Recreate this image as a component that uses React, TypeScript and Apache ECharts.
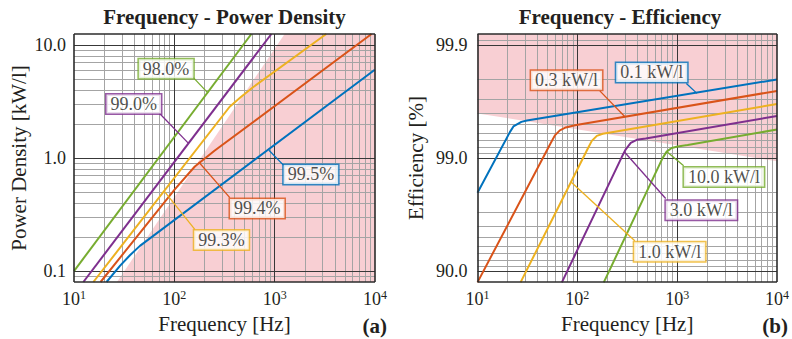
import React, { useEffect, useRef } from "react";
import * as echarts from "echarts";

const FONT = '"Liberation Serif", "Times New Roman", Times, serif';
const TEXT = "#231f20";
const BLUE = "#0072BD";
const ORANGE = "#D95319";
const YELLOW = "#EDB120";
const PURPLE = "#7E2F8E";
const GREEN = "#77AC30";
const PINK = "#F8CFD3";
const MINOR = "#a4a4a4";
const MAJOR = "#383838";

// ---- axes ----
const freqRange = [10, 10000];
const valueRange = [0.08, 12.5]; // left: kW/l ; right: losses 100 - efficiency (%)
const freqDecades = [10, 100, 1000, 10000];
const valueDecades = [0.1, 1, 10];
const minorSteps = [2, 3, 4, 5, 6, 7, 8, 9];
const freqMinor = [10, 100, 1000].flatMap((d) => minorSteps.map((k) => k * d));
const valueMinor = [0.09, ...[0.1, 1].flatMap((d) => minorSteps.map((k) => +(k * d).toFixed(3)))];

// ---- (a) power density [kW/l] vs frequency [Hz], one curve per efficiency ----
const dens980 = [[10, 0.1], [586, 12.5]];
const dens990 = [[12.4, 0.08], [927, 12.5]];
const dens993 = [[15.6, 0.08], [356, 2.84], [467, 3.5], [608, 4.22], [3266, 12.5]];
const dens994 = [[18.4, 0.08], [101, 0.528], [160, 0.841], [253, 1.164], [9230, 12.5]];
const dens995 = [[21.1, 0.08], [28.7, 0.111], [36.1, 0.138], [45.4, 0.167], [9950, 6.03]];
const densRegion = [[26.8, 0.08], [1257, 12.5], [10000, 12.5]];

// ---- (b) efficiency [%] vs frequency [Hz], one curve per power density ----
const eff01 = [[10, 97.97], [21.1, 99.41], [22.9, 99.474], [27.5, 99.521], [31.3, 99.534], [10000, 99.798]];
const eff03 = [[10, 87.4], [54, 99.26], [59.6, 99.369], [66.8, 99.43], [76.7, 99.463], [94.4, 99.486], [10000, 99.745]];
const eff10 = [[27, 87.4], [127.4, 99.176], [139.6, 99.295], [156.7, 99.363], [179.9, 99.389], [221, 99.409], [10000, 99.667]];
const eff30 = [[70, 87.4], [278.6, 99.019], [305.5, 99.162], [342.8, 99.266], [393.6, 99.309], [484, 99.329], [10000, 99.575]];
const eff100 = [[184, 87.4], [716, 99.003], [785, 99.122], [881, 99.184], [1012, 99.21], [1274, 99.232], [10000, 99.44]];
const effRegion = [[10, 99.597], [10000, 98.93]];

// ---- annotations: text, colour, point on curve, leader end, box centre ----
const densNotes = [
  { text: "98.0%", color: GREEN, at: [217, 3.75], end: [153, 5.19], box: [82.8, 6.15] },
  { text: "99.0%", color: PURPLE, at: [137, 1.36], end: [70.6, 2.5], box: [39.4, 3.01] },
  { text: "99.3%", color: YELLOW, at: [79.2, 0.51], end: [160, 0.234], box: [295, 0.188] },
  { text: "99.4%", color: ORANGE, at: [175, 0.922], end: [357, 0.446], box: [670, 0.358] },
  { text: "99.5%", color: BLUE, at: [877, 1.17], end: [1250, 0.847], box: [2296, 0.716] },
];
const effNotes = [
  { text: "0.1 kW/l", color: BLUE, at: [1578, 99.732], end: [1236, 99.781], box: [556, 99.825] },
  { text: "0.3 kW/l", color: ORANGE, at: [303, 99.564], end: [168, 99.745], box: [78, 99.795] },
  { text: "1.0 kW/l", color: YELLOW, at: [86, 98.38], end: [376, 94.6], box: [841, 93.24] },
  { text: "3.0 kW/l", color: PURPLE, at: [295, 99.119], end: [767, 97.72], box: [1746, 97.1] },
  { text: "10.0 kW/l", color: GREEN, at: [785, 99.122], end: [1161, 98.83], box: [2940, 98.53] },
];

const isDecade = (v: number) => Math.abs(Math.log10(v) - Math.round(Math.log10(v))) < 1e-6;

function buildPanel(
  idx: number,
  curves: { data: number[][]; color: string }[],
  region: number[][],
  notes: { text: string; color: string; at: number[]; end: number[]; box: number[] }[],
  toY: (v: number) => number
) {
  const ax = { xAxisIndex: idx, yAxisIndex: idx };
  const lax = { coordinateSystem: "cartesian2d", xAxisIndex: idx, yAxisIndex: idx };
  const [y0, y1] = valueRange;
  const [x0, x1] = freqRange;
  const pt = (p: number[]) => [p[0], toY(p[1])];
  const series: any[] = [];
  series.push({
    type: "line", ...ax, z: 1, silent: true, symbol: "none",
    data: region.map(pt),
    lineStyle: { width: 0, opacity: 0 },
    areaStyle: { color: PINK, opacity: 1, origin: "start" },
  });
  series.push({
    type: "lines", ...lax, z: 2, silent: true,
    lineStyle: { color: MINOR, width: 1, opacity: 1 },
    data: [
      ...freqMinor.map((x) => ({ coords: [[x, y0], [x, y1]] })),
      ...valueMinor.map((y) => ({ coords: [[x0, y], [x1, y]] })),
    ],
  });
  series.push({
    type: "lines", ...lax, z: 3, silent: true,
    lineStyle: { color: MAJOR, width: 1, opacity: 1 },
    data: [
      ...freqDecades.slice(1, -1).map((x) => ({ coords: [[x, y0], [x, y1]] })),
      ...valueDecades.map((y) => ({ coords: [[x0, y], [x1, y]] })),
    ],
  });
  curves.forEach((c) =>
    series.push({
      type: "line", ...ax, z: 4, silent: true, symbol: "none",
      data: c.data.map(pt),
      lineStyle: { color: c.color, width: 2 },
    })
  );
  series.push({
    type: "lines", ...lax, z: 5, silent: true,
    data: notes.map((n) => ({
      coords: [pt(n.at), pt(n.end)],
      lineStyle: { color: n.color, width: 1.3, opacity: 1 },
    })),
  });
  series.push({
    type: "scatter", ...ax, z: 6, silent: true, symbolSize: 1,
    itemStyle: { color: "rgba(0,0,0,0)" },
    data: notes.map((n) => ({
      value: pt(n.box),
      label: {
        show: true, position: "inside", formatter: n.text,
        fontFamily: FONT, fontSize: 18, color: TEXT,
        backgroundColor: "#fff", borderColor: n.color, borderWidth: 1.5,
        padding: [1, 4, 0, 4], lineHeight: 18,
      },
    })),
  });
  series.push({
    type: "lines", ...lax, z: 7, silent: true, clip: false,
    lineStyle: { color: "#2b2b2b", width: 1.6, opacity: 1 },
    data: [
      { coords: [[x0, y0], [x1, y0]] },
      { coords: [[x1, y0], [x1, y1]] },
      { coords: [[x1, y1], [x0, y1]] },
      { coords: [[x0, y1], [x0, y0]] },
    ],
  });
  return series;
}

const xLabel = (v: number) => (isDecade(v) ? `{b|10}{s|${Math.round(Math.log10(v))}}` : "");

function makeOption() {
  const xAxis = [0, 1].map((i) => ({
    type: "log", logBase: 10, gridIndex: i, min: freqRange[0], max: freqRange[1],
    name: "Frequency [Hz]", nameLocation: "middle", nameGap: 31,
    nameTextStyle: { fontFamily: FONT, fontSize: 21, color: TEXT },
    axisLine: { show: false }, axisTick: { show: false }, splitLine: { show: false },
    axisLabel: {
      margin: 7, formatter: xLabel, color: TEXT, fontFamily: FONT,
      rich: {
        b: { fontFamily: FONT, fontSize: 18, color: TEXT, lineHeight: 20 },
        s: { fontFamily: FONT, fontSize: 12, color: TEXT, lineHeight: 12, verticalAlign: "top" },
      },
    },
  }));
  const yAxis = [
    {
      type: "log", logBase: 10, gridIndex: 0, min: valueRange[0], max: valueRange[1],
      name: "Power Density [kW/l]", nameLocation: "middle", nameGap: 45,
      nameTextStyle: { fontFamily: FONT, fontSize: 21, color: TEXT },
      axisLine: { show: false }, axisTick: { show: false }, splitLine: { show: false },
      axisLabel: {
        margin: 8, fontFamily: FONT, fontSize: 18, color: TEXT,
        formatter: (v: number) => (isDecade(v) ? v.toFixed(1) : ""),
      },
    },
    {
      type: "log", logBase: 10, gridIndex: 1, min: valueRange[0], max: valueRange[1], inverse: true,
      name: "Efficiency [%]", nameLocation: "middle", nameGap: 51,
      nameTextStyle: { fontFamily: FONT, fontSize: 21, color: TEXT },
      axisLine: { show: false }, axisTick: { show: false }, splitLine: { show: false },
      axisLabel: {
        margin: 10, fontFamily: FONT, fontSize: 18, color: TEXT,
        formatter: (v: number) => (isDecade(v) ? (100 - v).toFixed(1) : ""),
      },
    },
  ];
  const left = buildPanel(
    0,
    [
      { data: dens995, color: BLUE },
      { data: dens994, color: ORANGE },
      { data: dens993, color: YELLOW },
      { data: dens990, color: PURPLE },
      { data: dens980, color: GREEN },
    ],
    densRegion, densNotes, (v) => v
  );
  const right = buildPanel(
    1,
    [
      { data: eff01, color: BLUE },
      { data: eff03, color: ORANGE },
      { data: eff10, color: YELLOW },
      { data: eff30, color: PURPLE },
      { data: eff100, color: GREEN },
    ],
    effRegion, effNotes, (v) => +(100 - v).toFixed(4)
  );
  const txt = (text: string, x: number, y: number, size: number, bold: boolean, align = "center") => ({
    type: "text", x, y, silent: true,
    style: {
      text, align, verticalAlign: "middle", fill: TEXT,
      fontFamily: FONT, fontSize: size, fontWeight: bold ? "bold" : "normal",
    },
  });
  return {
    animation: false,
    backgroundColor: "#fff",
    grid: [
      { left: 74, top: 34, width: 301, height: 249 },
      { left: 477.5, top: 34, width: 300, height: 249 },
    ],
    xAxis, yAxis,
    series: [...left, ...right],
    graphic: [
      txt("Frequency - Power Density", 224.5, 17, 21, true),
      txt("Frequency - Efficiency", 620, 17, 21, true),
      txt("(a)", 387, 326, 21, true, "right"),
      txt("(b)", 788, 326, 21, true, "right"),
    ],
  };
}

export default function App() {
  const ref = useRef<HTMLDivElement>(null);
  useEffect(() => {
    document.body.style.margin = "0";
    const chart = echarts.init(ref.current!, null, { renderer: "svg" });
    chart.setOption(makeOption() as any);
    return () => chart.dispose();
  }, []);
  return <div ref={ref} style={{ width: 792, height: 339 }} />;
}
